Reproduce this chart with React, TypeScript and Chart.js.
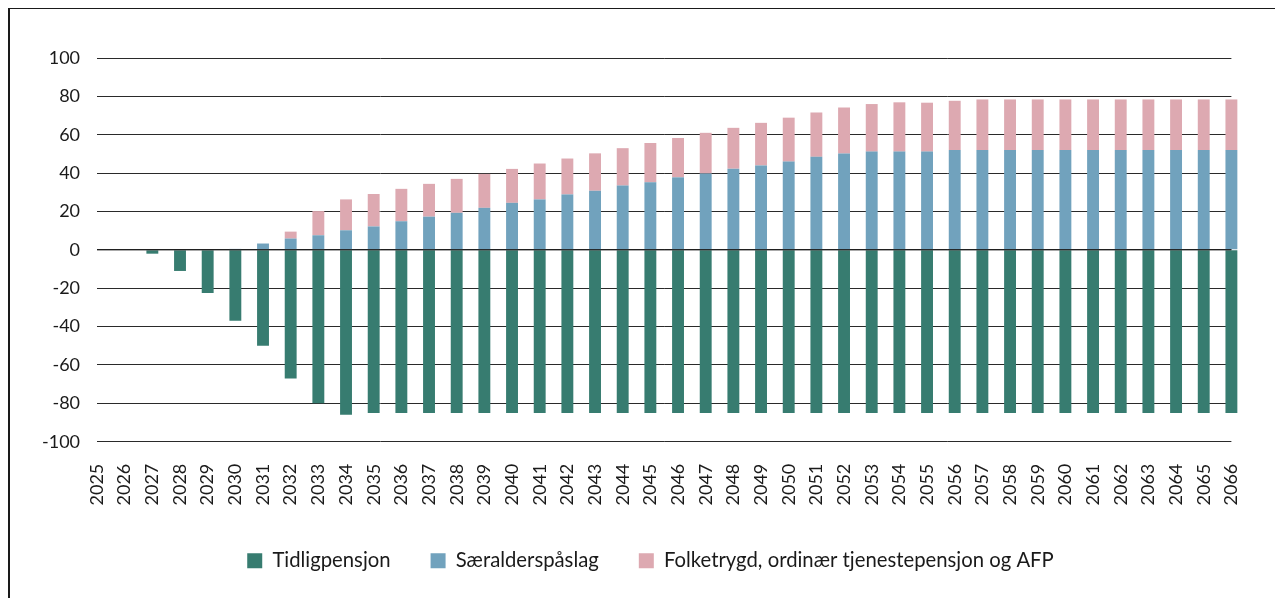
import React, { useEffect, useRef } from "react";
import { Chart, registerables } from "chart.js";

Chart.register(...registerables);

const years = [
  "2025", "2026", "2027", "2028", "2029", "2030", "2031", "2032", "2033", "2034",
  "2035", "2036", "2037", "2038", "2039", "2040", "2041", "2042", "2043", "2044",
  "2045", "2046", "2047", "2048", "2049", "2050", "2051", "2052", "2053", "2054",
  "2055", "2056", "2057", "2058", "2059", "2060", "2061", "2062", "2063", "2064",
  "2065", "2066",
];

const tidligpensjon = [
  0, 0, -2, -11, -22.5, -37, -50, -67, -80, -86,
  -85, -85, -85, -85, -85, -85, -85, -85, -85, -85,
  -85, -85, -85, -85, -85, -85, -85, -85, -85, -85,
  -85, -85, -85, -85, -85, -85, -85, -85, -85, -85,
  -85, -85,
];

const saeralderspaslag = [
  0, 0, 0, 0, 0, 0.5, 3.3, 5.9, 7.6, 10.2,
  12.2, 14.9, 17.3, 19.3, 21.9, 24.5, 26.3, 28.9, 30.8, 33.5,
  35.2, 37.8, 39.8, 42.3, 44.0, 46.0, 48.5, 50.2, 51.2, 51.2,
  51.2, 52, 52, 52, 52, 52, 52, 52, 52, 52,
  52, 52,
];

const folketrygd = [
  0, 0, 0, 0, 0, 0, 0, 3.6, 12.6, 16.1,
  16.9, 16.9, 17.1, 17.7, 17.7, 17.7, 18.7, 18.7, 19.5, 19.5,
  20.5, 20.5, 21.2, 21.3, 22.2, 22.9, 23.1, 24.0, 24.8, 25.7,
  25.5, 25.7, 26.4, 26.4, 26.4, 26.4, 26.4, 26.4, 26.4, 26.4,
  26.4, 26.4,
];

const yTicks = { min: -100, max: 100, step: 20 };

const COLORS = {
  green: "#377c70",
  blue: "#71a2bd",
  pink: "#dda9b1",
  grid: "#2a2a2a",
  text: "#1a1a1a",
};

const FONT = "Lato";

const zeroLinePlugin = {
  id: "zeroLine",
  afterDatasetsDraw(chart: any) {
    const { ctx, chartArea, scales } = chart;
    const y = scales.y.getPixelForValue(0);
    ctx.save();
    ctx.strokeStyle = "rgba(30,30,30,0.75)";
    ctx.lineWidth = 1.5;
    ctx.beginPath();
    ctx.moveTo(chartArea.left, y);
    ctx.lineTo(chartArea.right, y);
    ctx.stroke();
    ctx.restore();
  },
};

const legendShiftPlugin = {
  id: "legendShift",
  afterLayout(chart: any) {
    const lg = chart.legend;
    if (lg) {
      lg.left += 18;
      lg.right += 18;
    }
  },
};

export default function App() {
  const canvasRef = useRef<HTMLCanvasElement | null>(null);

  useEffect(() => {
    if (!canvasRef.current) return;
    const common = {
      barPercentage: 0.43,
      categoryPercentage: 1,
      borderWidth: 0,
      clip: false as any,
    };
    const chart = new Chart(canvasRef.current, {
      type: "bar",
      data: {
        labels: years,
        datasets: [
          { label: "Tidligpensjon", data: tidligpensjon, backgroundColor: COLORS.green, ...common },
          { label: "Særalderspåslag", data: saeralderspaslag, backgroundColor: COLORS.blue, ...common },
          {
            label: "Folketrygd, ordinær tjenestepensjon og AFP",
            data: folketrygd,
            backgroundColor: COLORS.pink,
            ...common,
          },
        ],
      },
      options: {
        animation: false,
        responsive: true,
        maintainAspectRatio: false,
        layout: { padding: { top: 49, left: 15, right: 35, bottom: 17 } },
        plugins: {
          legend: {
            position: "bottom",
            labels: {
              boxWidth: 15,
              boxHeight: 15,
              padding: 40,
              color: COLORS.text,
              font: { family: FONT, size: 20.3 },
            },
          },
          tooltip: { enabled: false },
        },
        scales: {
          x: {
            stacked: true,
            offset: false,
            grid: { display: false, drawTicks: false },
            border: { display: false },
            ticks: {
              autoSkip: false,
              minRotation: 90,
              maxRotation: 90,
              padding: 22,
              color: COLORS.text,
              font: { family: FONT, size: 18 },
            },
            afterFit(scale: any) {
              scale.height = 69;
            },
          },
          y: {
            stacked: true,
            min: yTicks.min,
            max: yTicks.max,
            grid: { color: COLORS.grid, lineWidth: 1, drawTicks: false },
            border: { display: false },
            ticks: {
              stepSize: yTicks.step,
              padding: 17,
              color: COLORS.text,
              font: { family: FONT, size: 18 },
            },
          },
        },
      },
      plugins: [zeroLinePlugin, legendShiftPlugin],
    });
    return () => chart.destroy();
  }, []);

  return (
    <div
      style={{
        marginTop: -1,
        borderTop: "2px solid #1a1a1a",
        borderLeft: "2px solid #1a1a1a",
        height: 591,
        boxSizing: "border-box",
        background: "#fff",
      }}
    >
      <div style={{ position: "relative", width: "100%", height: 589 }}>
        <canvas ref={canvasRef} />
      </div>
    </div>
  );
}
